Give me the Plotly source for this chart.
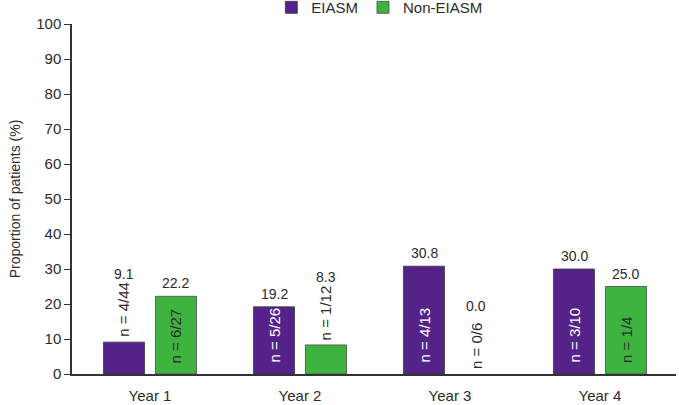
import plotly.graph_objects as go

categories = ["Year 1", "Year 2", "Year 3", "Year 4"]
eiasm_values = [9.1, 19.2, 30.8, 30.0]
non_eiasm_values = [22.2, 8.3, 0.0, 25.0]
eiasm_n = ["n = 4/44", "n = 5/26", "n = 4/13", "n = 3/10"]
non_eiasm_n = ["n = 6/27", "n = 1/12", "n = 0/6", "n = 1/4"]

PURPLE = "#55228a"
GREEN = "#3fb33f"
FONT = "Liberation Sans, Arial, sans-serif"
TXT = "#2b2b2b"

fig = go.Figure()
fig.add_trace(go.Bar(x=list(range(4)), y=eiasm_values, name="EIASM",
                     marker=dict(color=PURPLE,
                                 line=dict(color="#3a3a3a",
                                           width=[0.8 if v > 0 else 0 for v in eiasm_values]))))
fig.add_trace(go.Bar(x=list(range(4)), y=non_eiasm_values, name="Non-EIASM",
                     marker=dict(color=GREEN,
                                 line=dict(color="#4a4a4a",
                                           width=[0.8 if v > 0 else 0 for v in non_eiasm_values]))))

BAR_OFF = 0.173  # half slot offset in category units
annotations = []
for vals, ns, off, incol in [(eiasm_values, eiasm_n, -BAR_OFF, "white"),
                             (non_eiasm_values, non_eiasm_n, BAR_OFF, TXT)]:
    for i, (v, n) in enumerate(zip(vals, ns)):
        inside = v > 15
        if inside:
            annotations.append(dict(x=i + off, y=0, text=n, textangle=-90, showarrow=False,
                                    xref="x", yref="y", xanchor="center", yanchor="bottom",
                                    yshift=9, font=dict(family=FONT, size=15, color=incol)))
            annotations.append(dict(x=i + off, y=v, text=f"{v:.1f}", showarrow=False,
                                    xref="x", yref="y", xanchor="center", yanchor="bottom",
                                    yshift=3, font=dict(family=FONT, size=14, color=TXT)))
        else:
            annotations.append(dict(x=i + off, y=v, text=n, textangle=-90, showarrow=False,
                                    xref="x", yref="y", xanchor="center", yanchor="bottom",
                                    yshift=3, font=dict(family=FONT, size=15, color=TXT)))
            annotations.append(dict(x=i + off, y=v, text=f"{v:.1f}", showarrow=False,
                                    xref="x", yref="y", xanchor="center", yanchor="bottom",
                                    yshift=58, font=dict(family=FONT, size=14, color=TXT)))

fig.update_layout(
    width=679, height=405,
    margin=dict(l=72, r=3, t=24, b=31, autoexpand=False),
    paper_bgcolor="white", plot_bgcolor="white",
    barmode="group", bargap=0.307, bargroupgap=0.21,
    font=dict(family=FONT, size=14, color=TXT),
    showlegend=True,
    legend=dict(orientation="h", x=0.33, xanchor="left", y=1.094, yanchor="top",
                font=dict(family=FONT, size=15, color=TXT), itemwidth=30,
                bgcolor="rgba(0,0,0,0)", tracegroupgap=0),
    annotations=annotations,
    xaxis=dict(tickmode="array", tickvals=list(range(4)), ticktext=categories,
               range=[-0.52, 3.507], showline=True, linecolor="#333", linewidth=1.5,
               ticks="", showgrid=False, zeroline=False, ticklabelstandoff=7,
               tickfont=dict(family=FONT, size=15, color=TXT)),
    yaxis=dict(range=[0, 100], tickvals=list(range(0, 101, 10)), showline=True,
               linecolor="#333", linewidth=1.5, ticks="outside", ticklen=6,
               tickcolor="#333", showgrid=False, zeroline=False,
               tickfont=dict(family=FONT, size=15, color=TXT),
               title=dict(text="Proportion of patients (%)", standoff=12,
                          font=dict(family=FONT, size=14, color=TXT))),
)

fig.write_html("out.html")
